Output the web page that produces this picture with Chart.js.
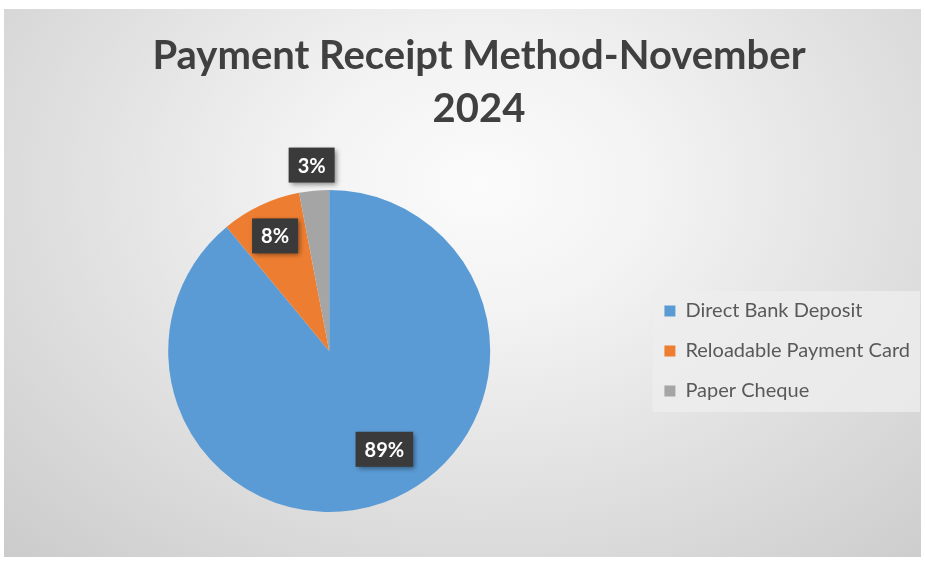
<!DOCTYPE html>
<html>
<head>
<meta charset="utf-8">
<script src="https://cdn.jsdelivr.net/npm/chart.js@4"></script>
<style>
    body { margin: 0; background: #fff; }
    #box {
        position: absolute; left: 4px; top: 9px; width: 917px; height: 548px;
        background: radial-gradient(ellipse 75% 95% at 52% 32%, #fbfbfb 0%, #f3f3f3 25%, #e0e0e0 60%, #cbcbcb 100%);
    }
</style>
</head>
<body>
<div id="box"><canvas id="pieChart" width="917" height="548"></canvas></div>
<script>
const categories = ['Direct Bank Deposit', 'Reloadable Payment Card', 'Paper Cheque'];
const shares = [89, 8, 3];
const sliceColors = ['#5B9BD5', '#ED7D31', '#A5A5A5'];
const titleLines = ['Payment Receipt Method-November', '2024'];

// where each label box sits: fraction of the radius, and a small angle nudge (deg)
const labelSpots = [
    { r: 0.70, shift: -9.5 },
    { r: 0.79, shift: 0 },
    { r: 1.16, shift: 0 },
];

const legendPanel = {
    id: 'legendPanel',
    beforeDraw(chart) {
        const lg = chart.legend;
        if (!lg || !lg.legendHitBoxes.length) return;
        const hb = lg.legendHitBoxes;
        const first = hb[0], last = hb[hb.length - 1];
        const right = Math.max(...hb.map(h => h.left + h.width));
        const ctx = chart.ctx;
        ctx.save();
        ctx.fillStyle = 'rgba(238,238,238,0.8)';
        ctx.fillRect(first.left - 12, first.top + first.height / 2 - 20,
            right - first.left + 22, last.top + last.height / 2 - first.top - first.height / 2 + 41);
        ctx.restore();
    }
};

const titleNudge = {
    id: 'titleNudge',
    afterLayout(chart) {
        chart.titleBlock.left += 12;
        chart.titleBlock.right += 12;
    }
};

const boxLabels = {
    id: 'boxLabels',
    afterDatasetsDraw(chart) {
        const ctx = chart.ctx;
        const meta = chart.getDatasetMeta(0);
        meta.data.forEach((arc, i) => {
            const p = arc.getProps(['x', 'y', 'startAngle', 'endAngle', 'outerRadius'], true);
            const spot = labelSpots[i];
            const a = (p.startAngle + p.endAngle) / 2 + spot.shift * Math.PI / 180;
            const cx = p.x + Math.cos(a) * p.outerRadius * spot.r;
            const cy = p.y + Math.sin(a) * p.outerRadius * spot.r;
            const text = shares[i] + '%';
            ctx.save();
            ctx.font = 'bold 20px Lato';
            const w = ctx.measureText(text).width + 18;
            const h = 35;
            ctx.shadowColor = 'rgba(0,0,0,0.45)';
            ctx.shadowBlur = 5;
            ctx.shadowOffsetX = 2;
            ctx.shadowOffsetY = 2;
            ctx.fillStyle = '#3a3a3a';
            ctx.fillRect(cx - w / 2, cy - h / 2, w, h);
            ctx.shadowColor = 'transparent';
            ctx.fillStyle = '#ffffff';
            ctx.textAlign = 'center';
            ctx.textBaseline = 'middle';
            ctx.fillText(text, cx, cy + 1);
            ctx.restore();
        });
    }
};

new Chart(document.getElementById('pieChart'), {
    type: 'pie',
    data: {
        labels: categories,
        datasets: [{
            data: shares,
            backgroundColor: sliceColors,
            borderWidth: 0,
            hoverOffset: 0,
        }]
    },
    options: {
        responsive: false,
        animation: false,
        layout: { padding: { left: 10, right: 1, top: 0, bottom: 45 } },
        plugins: {
            tooltip: { enabled: false },
            title: {
                display: true,
                text: titleLines,
                color: '#404040',
                font: { family: 'Lato', size: 40, weight: 'bold', lineHeight: 1.325 },
                padding: { top: 21, bottom: 54 },
            },
            legend: {
                position: 'right',
                fullSize: false,
                labels: {
                    color: '#595959',
                    font: { family: 'Lato', size: 20 },
                    boxWidth: 11,
                    boxHeight: 11,
                    padding: 20,
                }
            }
        }
    },
    plugins: [legendPanel, titleNudge, boxLabels]
});
</script>
</body>
</html>
